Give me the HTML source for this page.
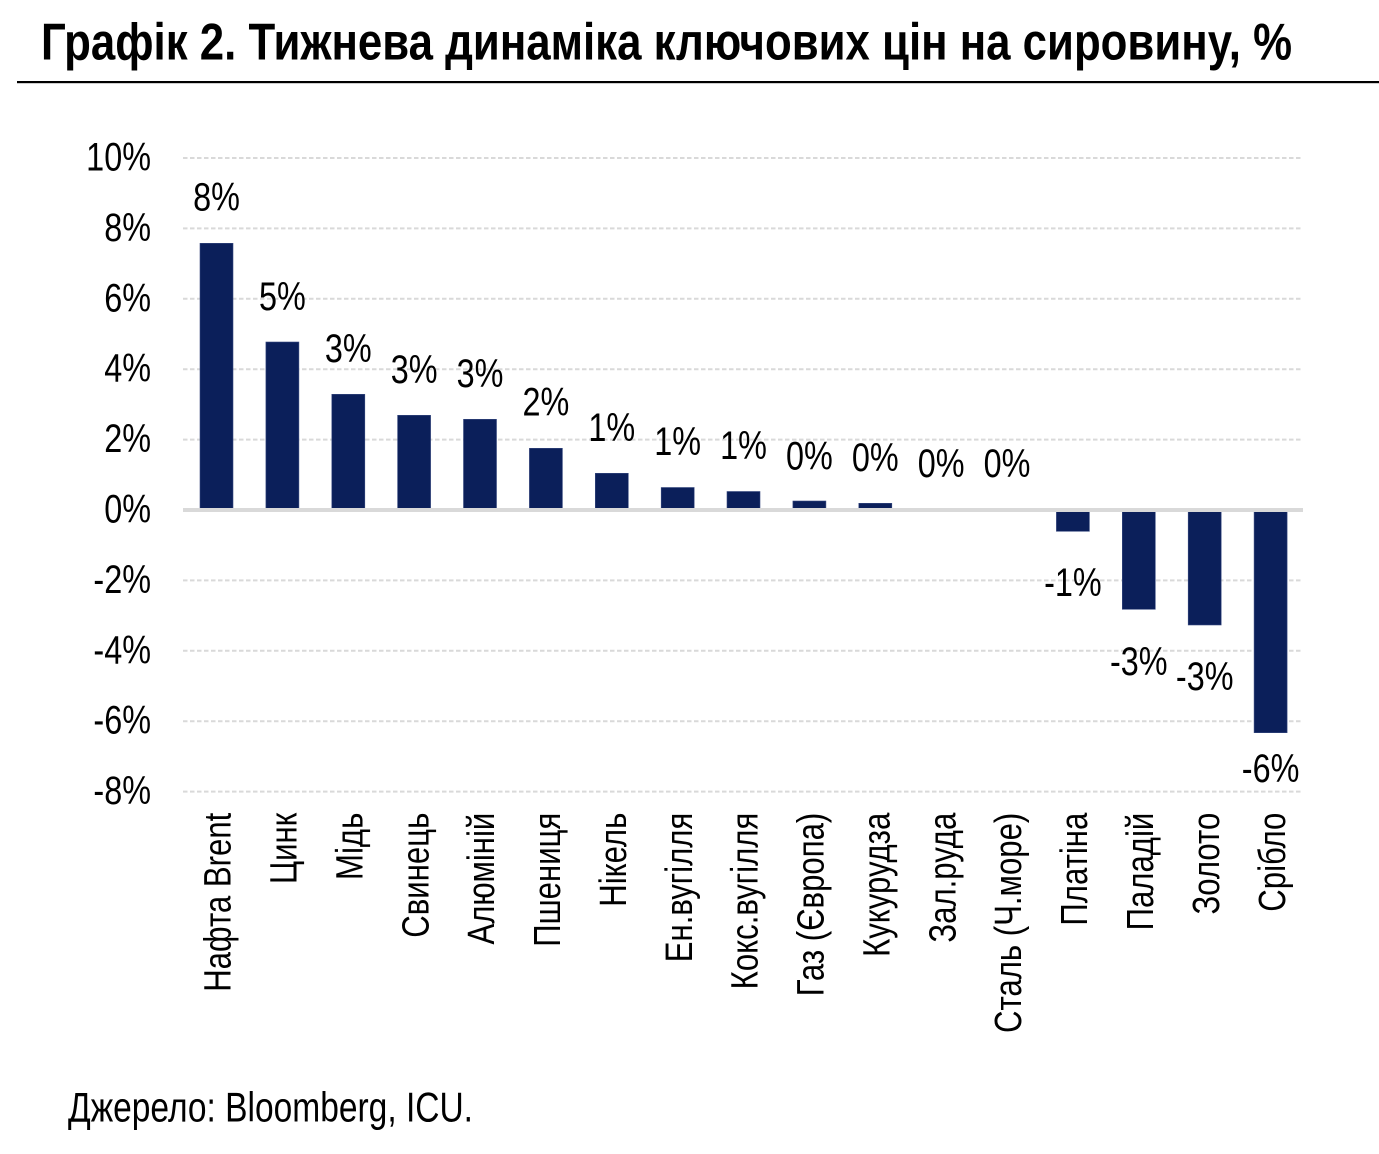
<!DOCTYPE html>
<html>
<head>
<meta charset="utf-8">
<style>
html,body{margin:0;padding:0;background:#fff;}
svg{display:block;}
text{font-family:"Liberation Sans","Noto Sans CJK SC",sans-serif;fill:#000;}
</style>
</head>
<body>
<svg width="1379" height="1154" viewBox="0 0 1379 1154" xmlns="http://www.w3.org/2000/svg">
<!-- Title -->
<text x="41" y="59.5" font-size="52" font-weight="bold" textLength="1251" lengthAdjust="spacingAndGlyphs">Графік 2. Тижнева динаміка ключових цін на сировину, %</text>
<rect x="17" y="81" width="1362" height="2.2" fill="#000"/>

<!-- Gridlines -->
<g stroke="#d9d9d9" stroke-width="2" stroke-dasharray="4.5,2.5">
<line x1="183" y1="158" x2="1303" y2="158"/>
<line x1="183" y1="228.4" x2="1303" y2="228.4"/>
<line x1="183" y1="298.8" x2="1303" y2="298.8"/>
<line x1="183" y1="369.2" x2="1303" y2="369.2"/>
<line x1="183" y1="439.6" x2="1303" y2="439.6"/>
<line x1="183" y1="580.4" x2="1303" y2="580.4"/>
<line x1="183" y1="650.8" x2="1303" y2="650.8"/>
<line x1="183" y1="721.2" x2="1303" y2="721.2"/>
<line x1="183" y1="791.6" x2="1303" y2="791.6"/>
</g>

<!-- Y tick labels -->
<g font-size="39.5" text-anchor="end">
<text transform="translate(151,170.5) scale(0.82,1)">10%</text>
<text transform="translate(151,240.9) scale(0.82,1)">8%</text>
<text transform="translate(151,311.3) scale(0.82,1)">6%</text>
<text transform="translate(151,381.7) scale(0.82,1)">4%</text>
<text transform="translate(151,452.1) scale(0.82,1)">2%</text>
<text transform="translate(151,522.5) scale(0.82,1)">0%</text>
<text transform="translate(151,592.9) scale(0.82,1)">-2%</text>
<text transform="translate(151,663.3) scale(0.82,1)">-4%</text>
<text transform="translate(151,733.7) scale(0.82,1)">-6%</text>
<text transform="translate(151,804.1) scale(0.82,1)">-8%</text>
</g>

<!-- Bars -->
<g fill="#0b1f5a" stroke="#3a4b80" stroke-width="0.6">
<rect x="200" y="243.3" width="33" height="266.7"/>
<rect x="265.9" y="342" width="33" height="168"/>
<rect x="331.8" y="394.3" width="33" height="115.7"/>
<rect x="397.6" y="415.3" width="33" height="94.7"/>
<rect x="463.5" y="419.3" width="33" height="90.7"/>
<rect x="529.4" y="448.3" width="33" height="61.7"/>
<rect x="595.3" y="473.3" width="33" height="36.7"/>
<rect x="661.2" y="487.5" width="33" height="22.5"/>
<rect x="727" y="491.5" width="33" height="18.5"/>
<rect x="792.9" y="501" width="33" height="9"/>
<rect x="858.8" y="503.3" width="33" height="6.7"/>
<rect x="1056.4" y="510" width="33" height="21.3"/>
<rect x="1122.3" y="510" width="33" height="99.3"/>
<rect x="1188.2" y="510" width="33" height="115"/>
<rect x="1254.1" y="510" width="33" height="222.7"/>
</g>

<!-- Zero axis -->
<rect x="183" y="508" width="1120" height="4" fill="#d9d9d9"/>

<!-- Data labels -->
<g font-size="39.5" text-anchor="middle">
<text transform="translate(216.5,210.7) scale(0.82,1)">8%</text>
<text transform="translate(282.4,310) scale(0.82,1)">5%</text>
<text transform="translate(348.3,362) scale(0.82,1)">3%</text>
<text transform="translate(414.1,383) scale(0.82,1)">3%</text>
<text transform="translate(480,387) scale(0.82,1)">3%</text>
<text transform="translate(545.9,415.5) scale(0.82,1)">2%</text>
<text transform="translate(611.8,441) scale(0.82,1)">1%</text>
<text transform="translate(677.7,455) scale(0.82,1)">1%</text>
<text transform="translate(743.5,459) scale(0.82,1)">1%</text>
<text transform="translate(809.4,469.5) scale(0.82,1)">0%</text>
<text transform="translate(875.3,471) scale(0.82,1)">0%</text>
<text transform="translate(941.2,477) scale(0.82,1)">0%</text>
<text transform="translate(1007,477) scale(0.82,1)">0%</text>
<text transform="translate(1072.9,596) scale(0.82,1)">-1%</text>
<text transform="translate(1138.8,675) scale(0.82,1)">-3%</text>
<text transform="translate(1204.7,690) scale(0.82,1)">-3%</text>
<text transform="translate(1270.6,782) scale(0.82,1)">-6%</text>
</g>

<!-- Category labels -->
<g font-size="38" text-anchor="end">
<text transform="translate(230.7,812.7) rotate(-90) scale(0.82,1)">Нафта Brent</text>
<text transform="translate(296.6,812.7) rotate(-90) scale(0.82,1)">Цинк</text>
<text transform="translate(362.5,812.7) rotate(-90) scale(0.82,1)">Мідь</text>
<text transform="translate(428.3,812.7) rotate(-90) scale(0.82,1)">Свинець</text>
<text transform="translate(494.2,812.7) rotate(-90) scale(0.82,1)">Алюміній</text>
<text transform="translate(560.1,812.7) rotate(-90) scale(0.82,1)">Пшениця</text>
<text transform="translate(626,812.7) rotate(-90) scale(0.82,1)">Нікель</text>
<text transform="translate(691.9,812.7) rotate(-90) scale(0.82,1)">Ен.вугілля</text>
<text transform="translate(757.7,812.7) rotate(-90) scale(0.82,1)">Кокс.вугілля</text>
<text transform="translate(823.6,812.7) rotate(-90) scale(0.82,1)">Газ (Європа)</text>
<text transform="translate(889.5,812.7) rotate(-90) scale(0.82,1)">Кукурудза</text>
<text transform="translate(955.4,812.7) rotate(-90) scale(0.82,1)">Зал.руда</text>
<text transform="translate(1021.2,812.7) rotate(-90) scale(0.82,1)">Сталь (Ч.море)</text>
<text transform="translate(1087.1,812.7) rotate(-90) scale(0.82,1)">Платіна</text>
<text transform="translate(1153,812.7) rotate(-90) scale(0.82,1)">Паладій</text>
<text transform="translate(1218.9,812.7) rotate(-90) scale(0.82,1)">Золото</text>
<text transform="translate(1284.8,812.7) rotate(-90) scale(0.82,1)">Срібло</text>
</g>

<!-- Source -->
<text x="68" y="1121.7" font-size="42" textLength="405" lengthAdjust="spacingAndGlyphs">Джерело: Bloomberg, ICU.</text>
</svg>
</body>
</html>
